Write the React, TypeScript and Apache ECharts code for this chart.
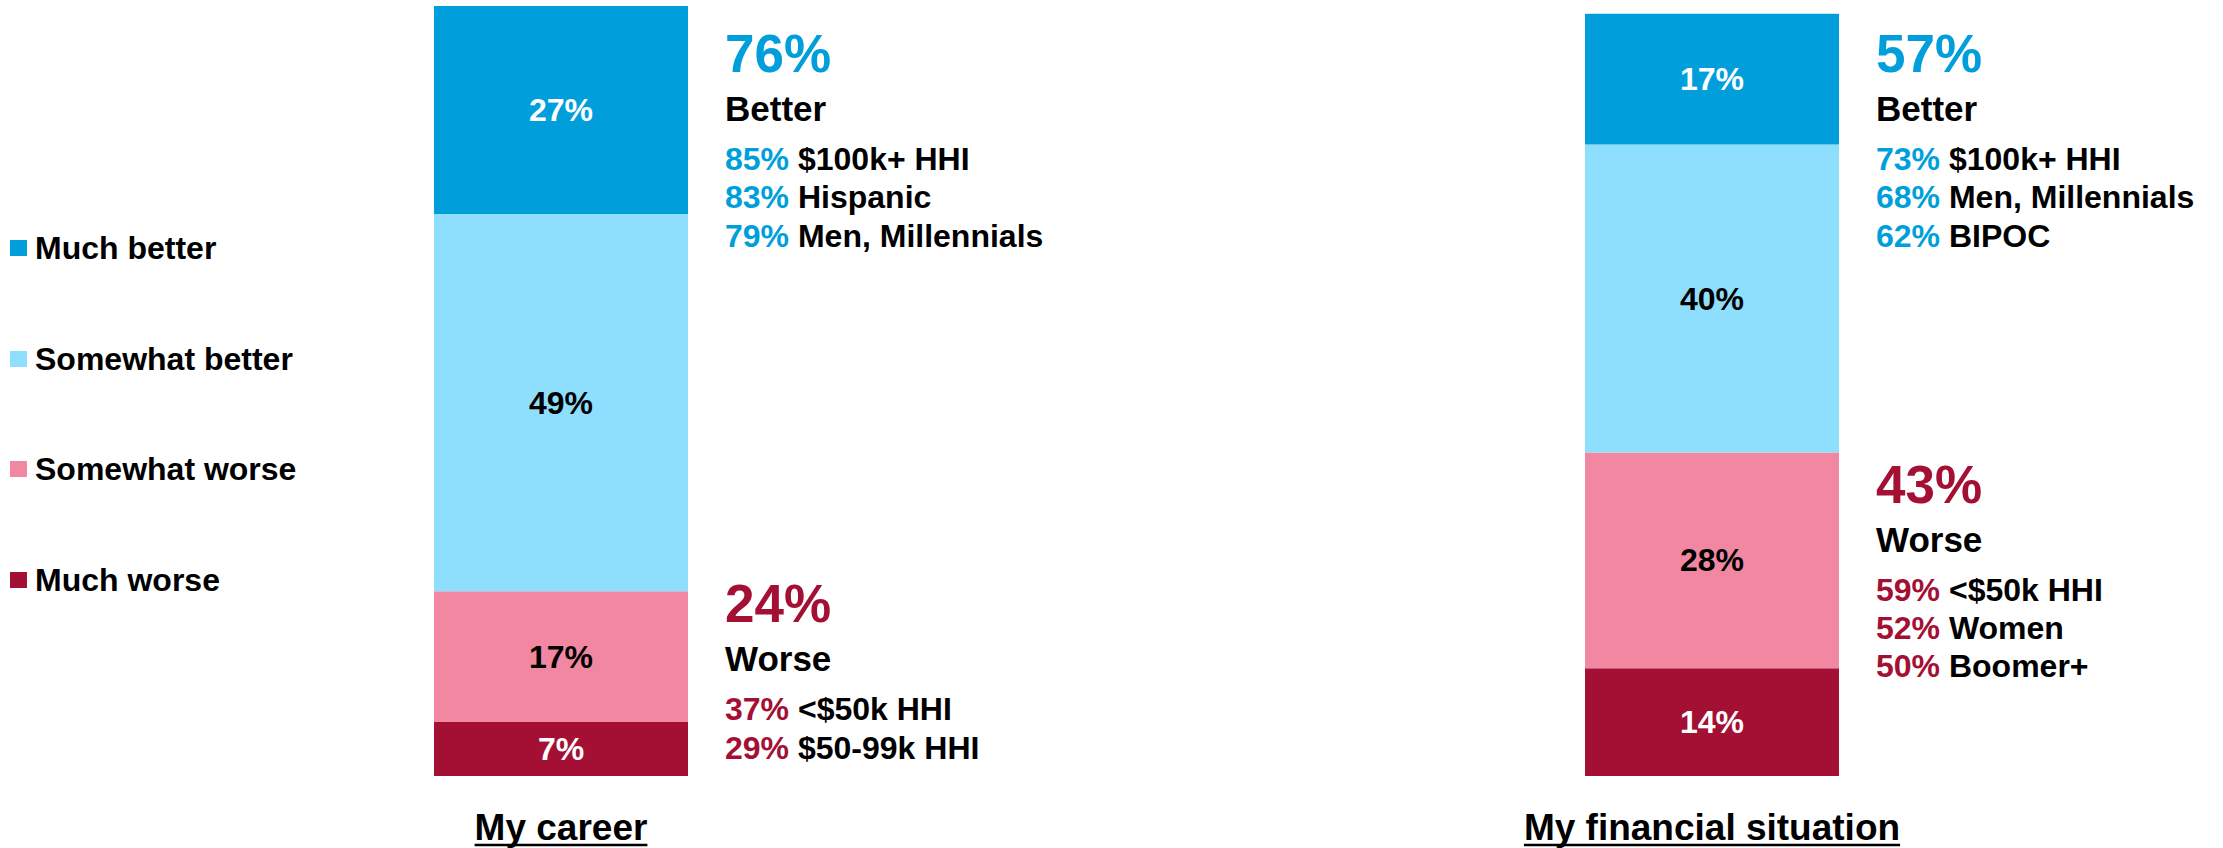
import React, { useEffect, useRef } from "react";
import * as echarts from "echarts";

// ---- data ----
const categories = ["My career", "My financial situation"];
const segmentNames = ["Much worse", "Somewhat worse", "Somewhat better", "Much better"];
const muchWorse = [7, 14];
const somewhatWorse = [17, 28];
const somewhatBetter = [49, 40];
const muchBetter = [27, 17];
const betterTotals = ["76%", "57%"];
const worseTotals = ["24%", "43%"];
const betterLabel = "Better";
const worseLabel = "Worse";
const betterGroups = [
  [["85%", "$100k+ HHI"], ["83%", "Hispanic"], ["79%", "Men, Millennials"]],
  [["73%", "$100k+ HHI"], ["68%", "Men, Millennials"], ["62%", "BIPOC"]],
];
const worseGroups = [
  [["37%", "<$50k HHI"], ["29%", "$50-99k HHI"]],
  [["59%", "<$50k HHI"], ["52%", "Women"], ["50%", "Boomer+"]],
];
const legendOrder = ["Much better", "Somewhat better", "Somewhat worse", "Much worse"];

// ---- styling ----
const FONT = "'Liberation Sans', Arial, sans-serif";
const BLUE = "#009FDB";
const RED = "#A31034";
const COLORS: Record<string, string> = {
  "Much better": "#009FDB",
  "Somewhat better": "#8EDFFD",
  "Somewhat worse": "#F287A1",
  "Much worse": "#A31034",
};
const LABEL_COLORS: Record<string, string> = {
  "Much better": "#FFFFFF",
  "Somewhat better": "#000000",
  "Somewhat worse": "#000000",
  "Much worse": "#FFFFFF",
};
const SERIES_VALUES: Record<string, number[]> = {
  "Much worse": muchWorse,
  "Somewhat worse": somewhatWorse,
  "Somewhat better": somewhatBetter,
  "Much better": muchBetter,
};

const GRIDS = [
  { left: 434, width: 254 },
  { left: 1585, width: 254 },
];
const GRID_TOP = 6;
const GRID_HEIGHT = 770;
const LEGEND_CENTERS = [248, 359, 469, 580];
const BETTER_Y = [53.4, 53.4];
const WORSE_Y = [603.7, 484];
const TEXT_GAP = 37;

function measure(text: string, font: string) {
  const c = document.createElement("canvas").getContext("2d");
  if (!c) return text.length * 18;
  c.font = font;
  return c.measureText(text).width;
}

function block(x: number, y0: number, big: string, word: string, groups: string[][], color: string) {
  const els: any[] = [];
  els.push({
    type: "text",
    x,
    y: y0,
    style: {
      text: big,
      fill: color,
      fontSize: 53,
      fontWeight: "bold",
      fontFamily: FONT,
      verticalAlign: "middle",
      align: "left",
    },
  });
  els.push({
    type: "text",
    x,
    y: y0 + 55,
    style: {
      text: word,
      fill: "#000",
      fontSize: 35,
      fontWeight: "bold",
      fontFamily: FONT,
      verticalAlign: "middle",
      align: "left",
    },
  });
  groups.forEach((g, i) => {
    els.push({
      type: "text",
      x,
      y: y0 + 105.5 + i * 38.3,
      style: {
        text: `{p|${g[0]}} {t|${g[1]}}`,
        fill: "#000",
        fontSize: 32,
        fontWeight: "bold",
        fontFamily: FONT,
        verticalAlign: "middle",
        align: "left",
        rich: {
          p: { fill: color, fontSize: 32, fontWeight: "bold", fontFamily: FONT },
          t: { fill: "#000", fontSize: 32, fontWeight: "bold", fontFamily: FONT },
        },
      },
    });
  });
  return els;
}

export default function App() {
  const ref = useRef<HTMLDivElement>(null);
  useEffect(() => {
    if (!ref.current) return;
    const chart = echarts.init(ref.current, null, { renderer: "svg" });

    const series: any[] = [];
    GRIDS.forEach((_, g) => {
      segmentNames.forEach((name) => {
        series.push({
          type: "bar",
          name,
          xAxisIndex: g,
          yAxisIndex: g,
          stack: "s" + g,
          barWidth: "100%",
          data: [SERIES_VALUES[name][g]],
          itemStyle: { color: COLORS[name] },
          label: {
            show: true,
            position: "inside",
            formatter: "{c}%",
            color: LABEL_COLORS[name],
            fontSize: 32,
            fontWeight: "bold",
            fontFamily: FONT,
          },
        });
      });
    });

    const graphic: any[] = [];
    GRIDS.forEach((gr, g) => {
      const x = gr.left + gr.width + TEXT_GAP;
      graphic.push(...block(x, BETTER_Y[g], betterTotals[g], betterLabel, betterGroups[g], BLUE));
      graphic.push(...block(x, WORSE_Y[g], worseTotals[g], worseLabel, worseGroups[g], RED));
      const w = measure(categories[g], `bold 37px ${FONT}`);
      const cx = gr.left + gr.width / 2;
      graphic.push({
        type: "line",
        shape: { x1: cx - w / 2, y1: 845, x2: cx + w / 2, y2: 845 },
        style: { stroke: "#000", lineWidth: 2.5 },
      });
    });

    chart.setOption({
      animation: false,
      grid: GRIDS.map((gr) => ({ left: gr.left, width: gr.width, top: GRID_TOP, height: GRID_HEIGHT })),
      xAxis: GRIDS.map((_, g) => ({
        type: "category",
        gridIndex: g,
        data: [categories[g]],
        axisLine: { show: false },
        axisTick: { show: false },
        axisLabel: {
          show: true,
          margin: 33,
          fontSize: 37,
          lineHeight: 37,
          fontWeight: "bold",
          fontFamily: FONT,
          color: "#000",
        },
      })),
      yAxis: GRIDS.map((_, g) => ({
        type: "value",
        gridIndex: g,
        min: 0,
        max: 100,
        show: false,
      })),
      legend: legendOrder.map((name, i) => ({
        data: [name],
        left: 10,
        top: LEGEND_CENTERS[i] - 16,
        orient: "vertical",
        padding: 0,
        icon: "rect",
        itemWidth: 17,
        itemHeight: 16,
        selectedMode: false,
        textStyle: {
          fontSize: 32,
          lineHeight: 32,
          fontWeight: "bold",
          fontFamily: FONT,
          color: "#000",
          padding: [0, 0, 0, 3],
        },
      })),
      series,
      graphic,
    });
    return () => chart.dispose();
  }, []);
  return (
    <div
      ref={ref}
      style={{ position: "fixed", left: 0, top: 0, width: "2223px", height: "848px", background: "#fff" }}
    />
  );
}
